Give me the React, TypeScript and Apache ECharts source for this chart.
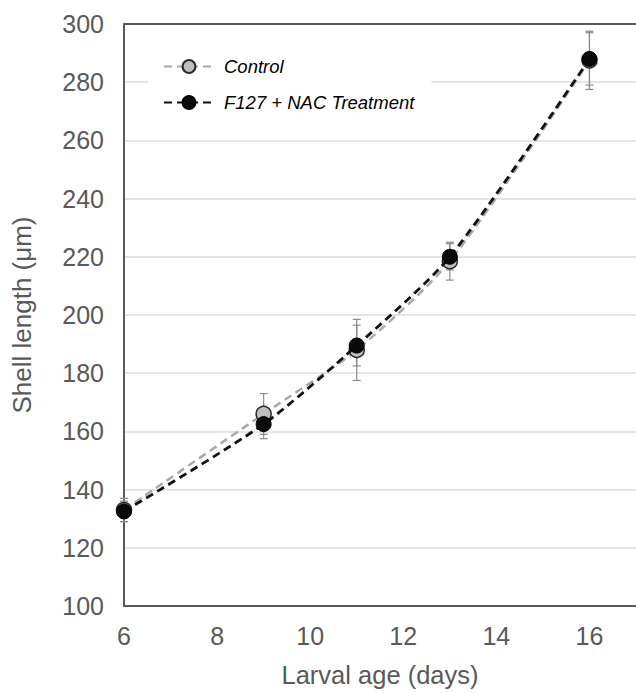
import React, { useEffect, useRef } from "react";
import * as echarts from "echarts";

const days = [6, 9, 11, 13, 16];
const controlMean = [133, 166, 188, 218.5, 287.5];
const controlErr = [4, 7, 10.5, 6.5, 10];
const treatMean = [132.5, 162.5, 189.5, 220, 288];
const treatErr = [3.5, 5, 7, 4.5, 9];
const seriesNames = ["Control", "F127 + NAC Treatment"];
const xTicks = [6, 8, 10, 12, 14, 16];

const FONT = "'Liberation Sans', Arial, Helvetica, sans-serif";

function errData(means: number[], errs: number[]) {
  return days.map((d, i) => [d, means[i] - errs[i], means[i] + errs[i]]);
}

function renderErr(params: any, api: any) {
  const x = api.value(0);
  const lo = api.coord([x, api.value(1)]);
  const hi = api.coord([x, api.value(2)]);
  const cap = 4;
  const style = { stroke: "#8a8a8a", lineWidth: 1.2 };
  return {
    type: "group",
    children: [
      { type: "line", shape: { x1: lo[0], y1: lo[1], x2: hi[0], y2: hi[1] }, style },
      { type: "line", shape: { x1: lo[0] - cap, y1: lo[1], x2: lo[0] + cap, y2: lo[1] }, style },
      { type: "line", shape: { x1: hi[0] - cap, y1: hi[1], x2: hi[0] + cap, y2: hi[1] }, style },
    ],
  };
}

export default function App() {
  const ref = useRef<HTMLDivElement>(null);
  useEffect(() => {
    if (!ref.current) return;
    const chart = echarts.init(ref.current, null, { renderer: "svg" });
    const labelColor = "#595959";
    chart.setOption({
      animation: false,
      textStyle: { fontFamily: FONT },
      grid: { left: 124, top: 24, right: -4, bottom: 86 },
      legend: {
        orient: "vertical",
        left: 148,
        top: 45,
        padding: [12, 17, 12, 15],
        backgroundColor: "#ffffff",
        itemWidth: 50,
        itemHeight: 16,
        itemGap: 17,
        data: seriesNames,
        textStyle: {
          fontFamily: FONT,
          fontSize: 18.5,
          fontStyle: "italic",
          color: "#000",
          padding: [0, 0, 0, 5],
        },
        z: 10,
      },
      xAxis: [
        {
          type: "value",
          min: 6,
          max: 17,
          interval: 2,
          position: "bottom",
          name: "Larval age (days)",
          nameLocation: "middle",
          nameGap: 56,
          nameTextStyle: { fontSize: 25.5, color: labelColor, fontFamily: FONT },
          axisLine: { show: true, lineStyle: { color: "#595959", width: 2 } },
          axisTick: { show: false },
          splitLine: { show: false },
          axisLabel: {
            fontSize: 25,
            color: labelColor,
            margin: 17,
            showMaxLabel: false,
            formatter: (v: number) => (xTicks.indexOf(v) >= 0 ? String(v) : ""),
          },
        },
        {
          type: "value",
          min: 6,
          max: 17,
          position: "top",
          axisLine: { show: true, onZero: false, lineStyle: { color: "#595959", width: 2 } },
          axisTick: { show: false },
          axisLabel: { show: false },
          splitLine: { show: false },
          z: 5,
        },
      ],
      yAxis: {
        type: "value",
        min: 100,
        max: 300,
        interval: 20,
        name: "Shell length (\u03bcm)",
        nameLocation: "middle",
        nameGap: 89,
        nameTextStyle: { fontSize: 26, color: labelColor, fontFamily: FONT },
        axisLine: { show: true, lineStyle: { color: "#595959", width: 2 } },
        axisTick: { show: false },
        axisLabel: { fontSize: 25, color: labelColor, margin: 20 },
        splitLine: { show: true, lineStyle: { color: "#dcdcdc", width: 1.5 } },
      },
      series: [
        {
          type: "custom",
          name: "errC",
          renderItem: renderErr,
          data: errData(controlMean, controlErr),
          encode: { x: 0, y: [1, 2] },
          z: 1,
        },
        {
          type: "custom",
          name: "errT",
          renderItem: renderErr,
          data: errData(treatMean, treatErr),
          encode: { x: 0, y: [1, 2] },
          z: 1,
        },
        {
          type: "line",
          name: seriesNames[0],
          data: days.map((d, i) => [d, controlMean[i]]),
          smooth: 0.25,
          symbol: "circle",
          symbolSize: 15,
          lineStyle: { color: "#a8a8a8", width: 2.5, type: [8, 5] },
          itemStyle: { color: "#bfbfbf", borderColor: "#2a2a2a", borderWidth: 1.5 },
          z: 2,
        },
        {
          type: "line",
          name: seriesNames[1],
          data: days.map((d, i) => [d, treatMean[i]]),
          smooth: 0.25,
          symbol: "circle",
          symbolSize: 15,
          lineStyle: { color: "#111111", width: 2.8, type: [8, 5] },
          itemStyle: { color: "#0a0a0a", borderColor: "#000000", borderWidth: 1 },
          z: 3,
        },
      ],
    });
    return () => chart.dispose();
  }, []);
  return (
    <div
      ref={ref}
      style={{ position: "fixed", left: 0, top: 0, width: 636, height: 693, background: "#fff" }}
    />
  );
}
